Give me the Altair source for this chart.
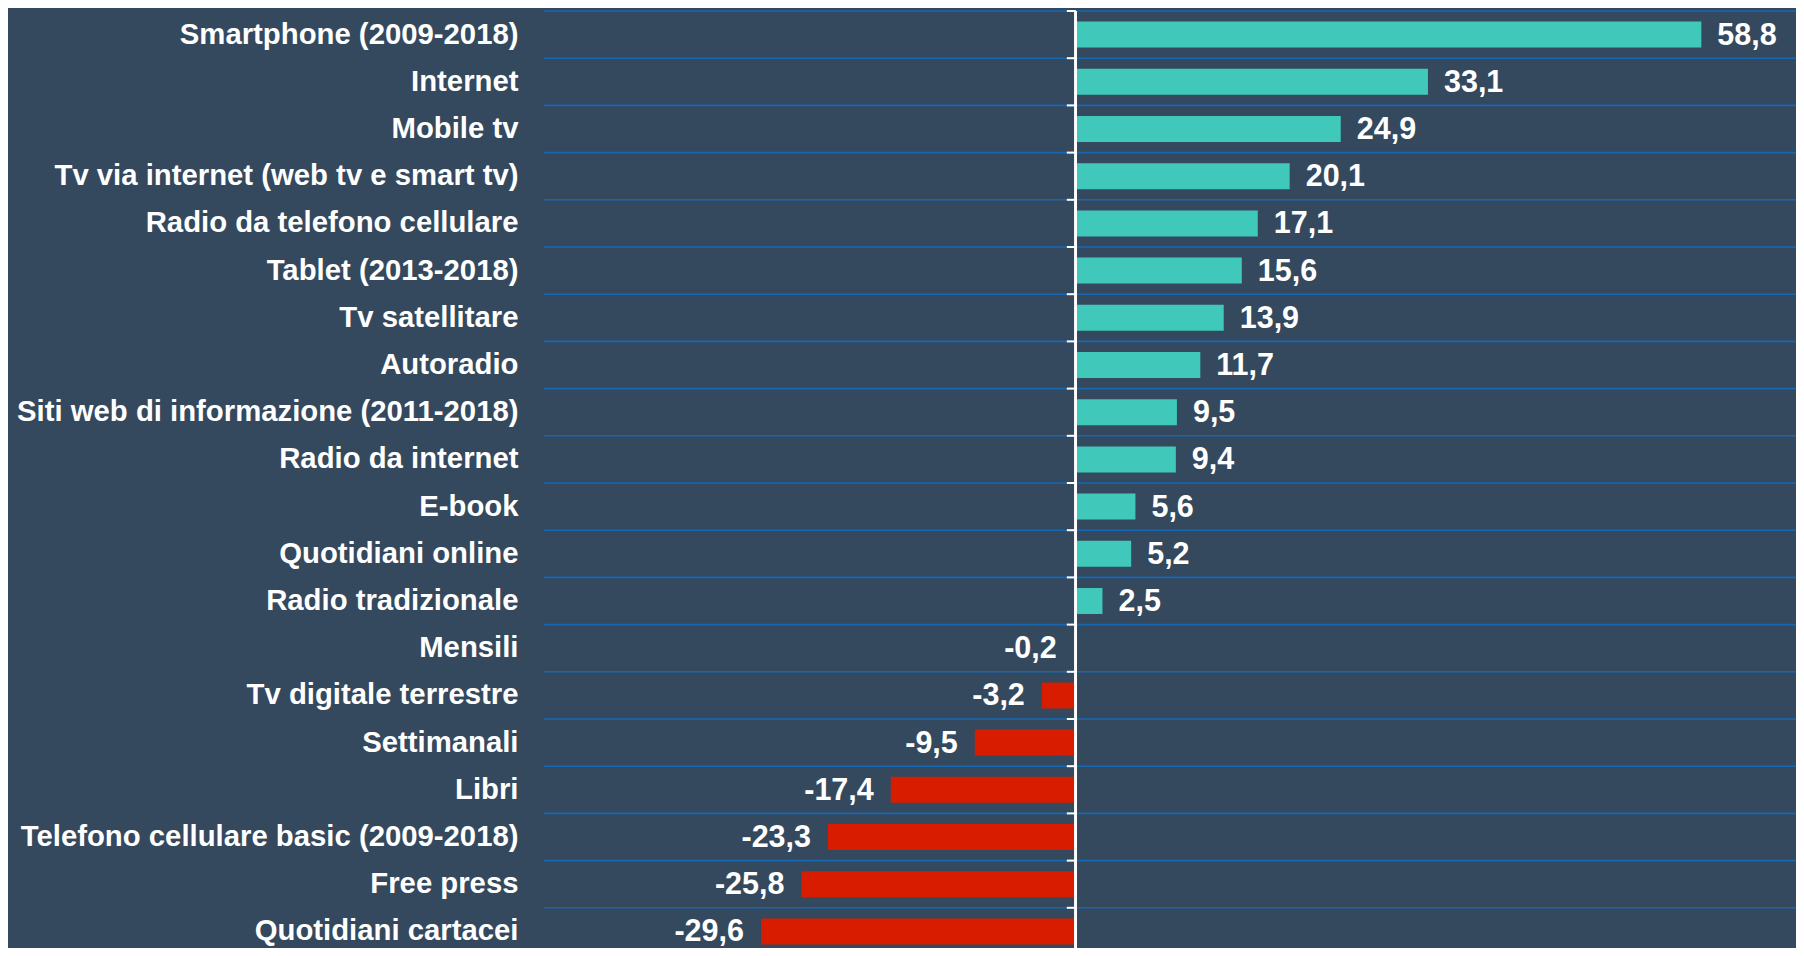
import altair as alt
import pandas as pd

categories = [
    "Smartphone (2009-2018)", "Internet ", "Mobile tv",
    "Tv via internet (web tv e smart tv)", "Radio da telefono cellulare",
    "Tablet (2013-2018)", "Tv satellitare", "Autoradio",
    "Siti web di informazione (2011-2018)", "Radio da internet", "E-book",
    "Quotidiani online", "Radio tradizionale", "Mensili",
    "Tv digitale terrestre", "Settimanali", "Libri",
    "Telefono cellulare basic (2009-2018)", "Free press", "Quotidiani cartacei",
]
values = [58.8, 33.1, 24.9, 20.1, 17.1, 15.6, 13.9, 11.7, 9.5, 9.4, 5.6, 5.2,
          2.5, -0.2, -3.2, -9.5, -17.4, -23.3, -25.8, -29.6]
labels = [f"{v:.1f}".replace(".", ",") for v in values]

df = pd.DataFrame({"cat": categories, "v": values, "lab": labels})

BG = "#34495e"
TEAL = "#40c9ba"
RED = "#d81c00"
GRID = "#1668b4"
FONT = "Liberation Sans"

W = 1252
H = 937
STEP = 47.2
x_scale = alt.Scale(domain=[-50, 67.7], nice=False, zero=False)
y_scale = alt.Scale(range=[0, STEP * len(categories)], paddingInner=0, paddingOuter=0)

base = alt.Chart(df)

grid = base.mark_rule(color=GRID, strokeWidth=1.6).encode(
    y=alt.Y("cat:N", sort=categories, scale=y_scale, bandPosition=0,
            axis=alt.Axis(title=None, domain=False, ticks=False, grid=False,
                          labelFont=FONT, labelFontWeight="bold",
                          labelFontSize=29.3, labelColor="white",
                          labelPadding=26, labelLimit=0)),
    x=alt.value(0),
    x2=alt.value(W),
)

bars = base.mark_bar(size=26).encode(
    y=alt.Y("cat:N", sort=categories),
    x=alt.X("v:Q", scale=x_scale, axis=None),
    x2=alt.datum(0),
    color=alt.condition(alt.datum.v >= 0, alt.value(TEAL), alt.value(RED)),
)

txt_pos = base.transform_filter(alt.datum.v >= 0).mark_text(
    align="left", baseline="middle", dx=16, dy=1, font=FONT,
    fontWeight="bold", fontSize=30.5, color="white",
).encode(
    y=alt.Y("cat:N", sort=categories),
    x=alt.X("v:Q", scale=x_scale, axis=None),
    text="lab:N",
)

txt_neg = base.transform_filter(alt.datum.v < 0).mark_text(
    align="right", baseline="middle", dx=-17, dy=1, font=FONT,
    fontWeight="bold", fontSize=30.5, color="white",
).encode(
    y=alt.Y("cat:N", sort=categories),
    x=alt.X("v:Q", scale=x_scale, axis=None),
    text="lab:N",
)

zero_line = base.mark_rule(color="white", strokeWidth=2).encode(
    x=alt.datum(0),
    y=alt.value(0),
    y2=alt.value(960),
)

ticks = base.mark_rule(color="white", strokeWidth=2).encode(
    y=alt.Y("cat:N", sort=categories, bandPosition=0),
    x=alt.datum(0),
    x2=alt.datum(-0.85),
)

chart = alt.layer(grid, bars, txt_pos, txt_neg, zero_line, ticks).properties(
    width=W, height=H,
    autosize=alt.AutoSizeParams(type="none"),
    padding={"left": 536, "top": 3, "right": 0, "bottom": 0},
    background=BG,
).configure_view(stroke=None)

chart.save("out.html", embed_options={"renderer": "svg", "actions": False})
